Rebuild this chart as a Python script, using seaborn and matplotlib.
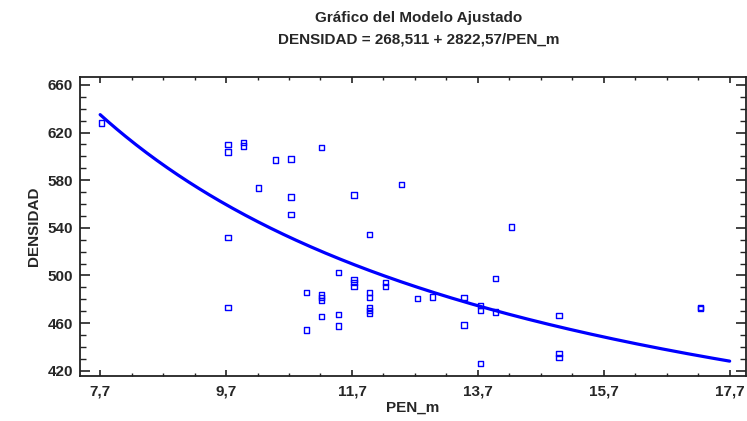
import numpy as np
import pandas as pd
import matplotlib
matplotlib.use("Agg")
import matplotlib.pyplot as plt
from matplotlib.ticker import MultipleLocator, FixedLocator, FuncFormatter
import seaborn as sns

# Observations: penetration (PEN_m) and density (DENSIDAD)
pen_m = [7.72, 9.73, 9.73, 9.98, 9.98, 10.49, 10.73, 10.22, 10.73, 10.73,
         9.73, 9.73, 11.22, 11.73, 11.98, 11.49, 11.73, 11.73, 11.73, 12.23,
         12.23, 10.98, 10.98, 11.22, 11.22, 11.22, 11.22, 11.49, 11.49, 11.98,
         11.98, 11.98, 11.98, 11.98, 12.49, 14.23, 13.98, 12.74, 12.98, 13.48,
         13.74, 13.74, 13.98, 13.48, 13.74, 14.99, 14.99, 14.99, 17.24, 17.24]
densidad = [628.0, 610.1, 603.6, 611.5, 608.6, 597.1, 597.7, 573.3, 566.0, 551.2,
            531.7, 473.0, 607.5, 567.6, 534.3, 502.2, 496.4, 493.8, 490.7, 494.1,
            490.7, 485.9, 454.3, 483.7, 481.2, 478.7, 465.5, 467.2, 457.6, 485.4,
            481.2, 472.8, 470.5, 468.0, 576.4, 540.7, 497.2, 480.4, 482.0, 481.2,
            474.5, 470.5, 469.4, 458.5, 426.0, 466.3, 434.3, 431.2, 473.3, 472.0]

# Fitted model: DENSIDAD = a + b / PEN_m
coef_a = 268.511
coef_b = 2822.57

x_ticks = [7.7, 9.7, 11.7, 13.7, 15.7, 17.7]
y_ticks = [420, 460, 500, 540, 580, 620, 660]

sns.set_theme(style="white")
plt.rcParams["font.family"] = ["Liberation Sans", "DejaVu Sans"]
plt.rcParams["font.weight"] = "bold"

fig = plt.figure(figsize=(7.47, 4.21), dpi=100)
ax = fig.add_axes([0.1071, 0.1069, 0.8916, 0.7102])

obs = pd.DataFrame({"PEN_m": pen_m, "DENSIDAD": densidad})
x_fit = np.linspace(min(x_ticks), max(x_ticks), 300)
fit = pd.DataFrame({"PEN_m": x_fit, "DENSIDAD": coef_a + coef_b / x_fit})

sns.lineplot(data=fit, x="PEN_m", y="DENSIDAD", ax=ax, color="#0000ff",
             linewidth=2.3, zorder=2)
sns.scatterplot(data=obs, x="PEN_m", y="DENSIDAD", ax=ax, marker="s", s=15,
                facecolor="none", edgecolor="#0000ff", linewidth=1.0, zorder=3)

ax.set_xlim(7.38, 17.96)
ax.set_ylim(415.5, 666.7)

ax.xaxis.set_major_locator(FixedLocator(x_ticks))
ax.xaxis.set_minor_locator(FixedLocator(np.arange(7.7, 17.71, 0.5)))
ax.yaxis.set_major_locator(FixedLocator(y_ticks))
ax.yaxis.set_minor_locator(MultipleLocator(10))
ax.xaxis.set_major_formatter(FuncFormatter(lambda v, p: f"{v:.1f}".replace(".", ",")))
ax.yaxis.set_major_formatter(FuncFormatter(lambda v, p: f"{v:.0f}"))

ax.tick_params(axis="x", which="major", direction="in", length=4.5, width=1.2,
               top=True, bottom=True, labelsize=11, pad=6, color="#222222")
ax.tick_params(axis="x", which="minor", direction="in", length=2.5, width=1.0,
               top=True, bottom=True, color="#222222")
ax.tick_params(axis="y", which="major", direction="in", length=7, width=1.2,
               left=True, right=True, labelsize=11, pad=5, color="#222222")
ax.tick_params(axis="y", which="minor", direction="in", length=4, width=1.0,
               left=True, right=True, color="#222222")
for lbl in ax.get_xticklabels() + ax.get_yticklabels():
    lbl.set_fontweight("bold")

for sp in ax.spines.values():
    sp.set_visible(True)
    sp.set_color("#222222")
    sp.set_linewidth(1.3)

ax.set_xlabel("PEN_m", fontsize=11, fontweight="bold", labelpad=2)
ax.set_ylabel("DENSIDAD", fontsize=11, fontweight="bold", labelpad=5)

fig.text(0.56, 0.958, "Gráfico del Modelo Ajustado", ha="center", va="center",
         fontsize=11, fontweight="bold")
fig.text(0.56, 0.905, f"DENSIDAD = {coef_a:.3f} + {coef_b:.2f}/PEN_m".replace(".", ","),
         ha="center", va="center", fontsize=11, fontweight="bold")

fig.savefig("out.png", dpi=100, facecolor="white")
